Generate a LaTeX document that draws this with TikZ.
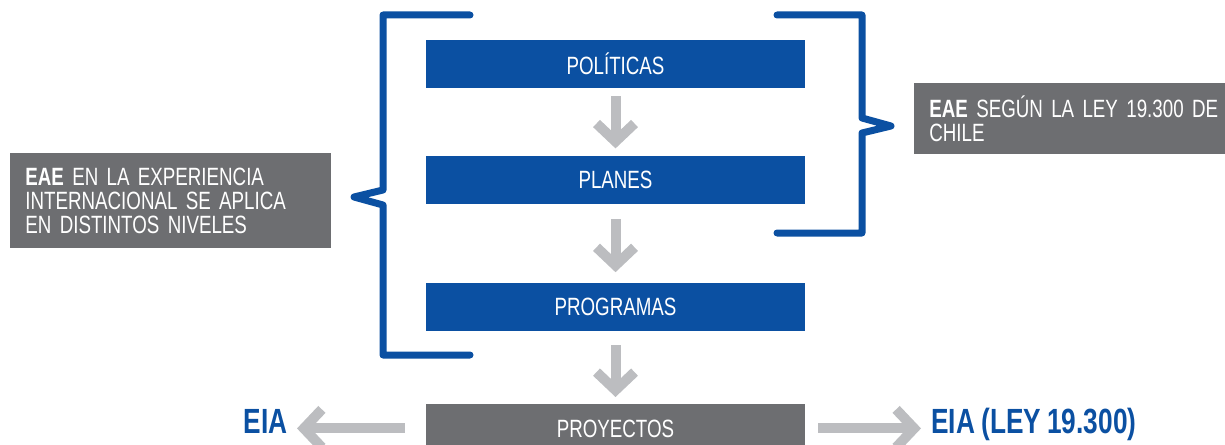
\documentclass[tikz,border=0pt]{standalone}
\usepackage{fontspec}
\setmainfont[FakeStretch=0.75, WordSpace=0.85]{Liberation Sans}
\usetikzlibrary{positioning,arrows.meta}
\definecolor{azul}{HTML}{0B50A2}
\definecolor{grisnota}{HTML}{6D6E71}
\definecolor{grisflecha}{HTML}{BCBDC0}
\tikzset{
  nivel/.style={rectangle, fill=azul, text=white, minimum width=189.5pt, minimum height=24pt, inner sep=0pt, font=\fontsize{12.5}{13}\selectfont},
  nota/.style={rectangle, fill=grisnota, text=white, align=left, inner xsep=7.5pt, inner ysep=0pt, anchor=north west, font=\fontsize{12.5}{12}\selectfont},
  flecha/.style={draw=grisflecha, line width=5pt, -{Straight Barb[length=9pt, width=19pt]}},
  llave/.style={draw=azul, line width=3.5pt, line cap=round, line join=round},
  eia/.style={text=azul, font=\fontsize{17.5}{18}\selectfont\bfseries, inner sep=0pt}
}

\begin{document}
\begin{tikzpicture}[x=0.5pt, y=-0.5pt]
            \useasboundingbox (0,0) rectangle (1225,444);
            \clip (0,0) rectangle (1225,444);
            \node[nivel] (politicas) at (615.5,64) {POLÍTICAS};
            \node[nivel, below=33.5pt of politicas] (planes) {PLANES};
            \node[nivel, below=39pt of planes] (programas) {PROGRAMAS};
            \node[nivel, fill=grisnota, below=36.5pt of programas] (proyectos) {PROYECTOS};
            \node[nota, text width=145.5pt, minimum height=47.5pt] (internacional) at (10,153) {\textbf{EAE} EN LA EXPERIENCIA\\INTERNACIONAL SE APLICA\\EN DISTINTOS NIVELES};
            \node[nota, text width=165pt, minimum height=35.5pt] (ley) at (914,83) {\textbf{EAE} SEGÚN LA LEY 19.300 DE\\CHILE};
            \node[eia, anchor=base east] (eia) at (288,433) {EIA};
            \node[eia, anchor=base west] (eialey) at (931,433) {EIA (LEY 19.300)};
            \draw[flecha, shorten <=4pt, shorten >=3.5pt] (politicas) -- (planes);
            \draw[flecha, shorten <=7.5pt, shorten >=5pt] (planes) -- (programas);
            \draw[flecha, shorten <=7pt, shorten >=3.5pt] (programas) -- (proyectos);
            \draw[flecha, shorten <=10.5pt, shorten >=4.5pt] (proyectos.west) -- (proyectos.west -| eia.east);
            \draw[flecha, shorten <=6.5pt, shorten >=5pt] (proyectos.east) -- (proyectos.east -| eialey.west);
            % llaves
            \draw[llave] (470,15) -- (383,15) -- (383,190) -- (354,197) -- (383,205) -- (383,355) -- (470,355);
            \draw[llave] (777,15) -- (862,15) -- (862,118) -- (891,126) -- (862,133) -- (862,233) -- (777,233);
        \end{tikzpicture}
\end{document}
